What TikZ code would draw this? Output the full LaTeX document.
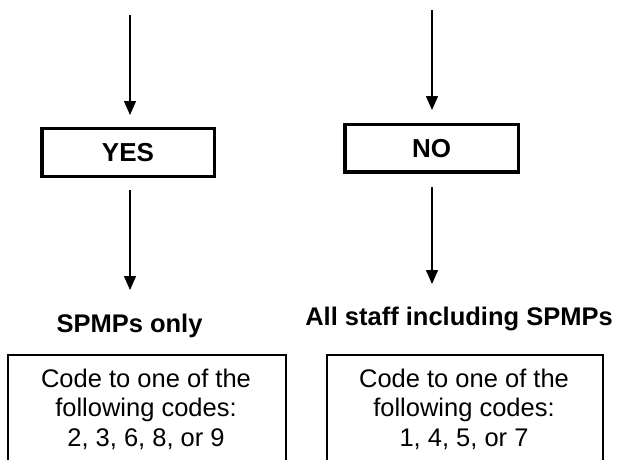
\documentclass[tikz,border=0pt]{standalone}
\usepackage{fontspec}
\setmainfont{Liberation Sans}
\usetikzlibrary{arrows.meta}
\begin{document}
\begin{tikzpicture}[x=1pt,y=-1pt,
  arr/.style={line width=1.3pt, -{Triangle[length=14pt,width=12pt]}},
  choice/.style={draw, line width=3.5pt, inner sep=0pt, outer sep=0pt,
    font=\fontsize{26}{30}\selectfont\bfseries},
  grp/.style={inner sep=0pt, outer sep=0pt, text height=18.5pt,
    font=\fontsize{25.5}{30}\selectfont\bfseries},
  codebox/.style={draw, line width=1.2pt, inner sep=0pt, outer sep=0pt},
  codetext/.style={inner sep=0pt, align=center,
    font=\fontsize{25.5}{29.5}\selectfont}
]
\useasboundingbox (0,0) rectangle (624,460);
\clip (0,0) rectangle (624,460);

% decision boxes
\node[choice, minimum width=172.5pt, minimum height=48.4pt] (yes) at (128,152.5) {YES};
\node[choice, minimum width=173.3pt, minimum height=47.7pt] (no) at (431.7,148.2) {NO};

% group labels
\node[grp, anchor=base] (spmps) at (129.5,332) {SPMPs only};
\node[grp, anchor=base] (allstaff) at (459,325) {All staff including SPMPs};

% code boxes
\node[codebox, minimum width=278pt, minimum height=140pt, anchor=north] (lbox) at (147,355) {};
\node[codebox, minimum width=276pt, minimum height=140pt, anchor=north] (rbox) at (465,355) {};
\node[codetext, anchor=north] (ltext) at (146,368.4) {Code to one of the\\following codes:\\2, 3, 6, 8, or 9};
\node[codetext, anchor=north] (rtext) at (464,368.4) {Code to one of the\\following codes:\\1, 4, 5, or 7};

% arrows
\coordinate (ltop) at (130,15);
\coordinate (rtop) at (432,10);
\draw[arr, shorten >=13.3pt] (ltop) -- (ltop |- yes.north);
\draw[arr, shorten <=13.3pt, shorten >=23.5pt] (ltop |- yes.south) -- (ltop |- spmps.north);
\draw[arr, shorten >=14.3pt] (rtop) -- (rtop |- no.north);
\draw[arr, shorten <=15pt, shorten >=22.5pt] (rtop |- no.south) -- (rtop |- allstaff.north);
\end{tikzpicture}
\end{document}
